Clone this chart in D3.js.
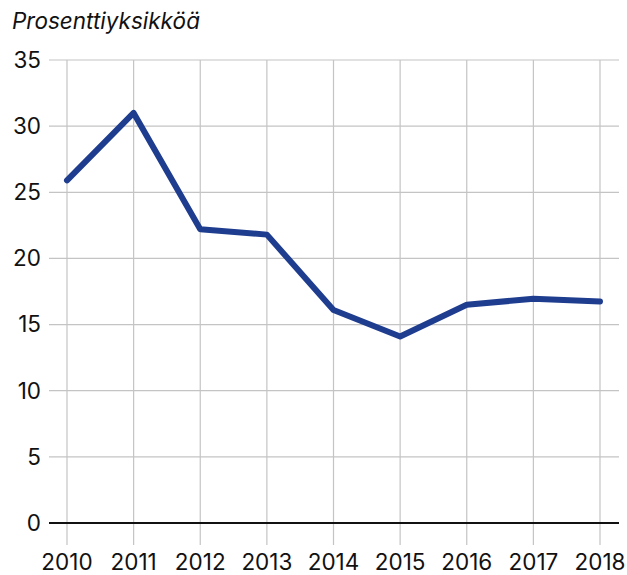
<!DOCTYPE html>
<html>
<head>
<meta charset="utf-8">
<script src="https://cdn.jsdelivr.net/npm/d3@7"></script>
<style>
  body { margin: 0; background: #fff; }
  svg { display: block; font-family: Inter, "Open Sans", sans-serif; }
</style>
</head>
<body>
<div id="chart"></div>
<script>
const years = [2010, 2011, 2012, 2013, 2014, 2015, 2016, 2017, 2018];
const values = [25.9, 31.0, 22.2, 21.8, 16.1, 14.1, 16.5, 16.95, 16.75];
const yTicks = [0, 5, 10, 15, 20, 25, 30, 35];
const unitLabel = "Prosenttiyksikköä";

const W = 627, H = 575;
const margin = { top: 60, right: 27, bottom: 52, left: 49 };
const fontSize = 22.5;

const svg = d3.select("#chart").append("svg")
  .attr("width", W)
  .attr("height", H);

const x = d3.scalePoint()
  .domain(years)
  .range([67, 600]);

const y = d3.scaleLinear()
  .domain([0, 35])
  .range([H - margin.bottom, margin.top]);

// horizontal grid
svg.append("g")
  .selectAll("line")
  .data(yTicks.filter(d => d !== 0))
  .join("line")
    .attr("x1", margin.left)
    .attr("x2", W - 8)
    .attr("y1", d => y(d))
    .attr("y2", d => y(d))
    .attr("stroke", "#c4c4c4")
    .attr("stroke-width", 1.2);

// vertical grid (reaches below the zero line)
svg.append("g")
  .selectAll("line")
  .data(years)
  .join("line")
    .attr("x1", d => x(d))
    .attr("x2", d => x(d))
    .attr("y1", margin.top)
    .attr("y2", y(0) + 22)
    .attr("stroke", "#c4c4c4")
    .attr("stroke-width", 1.2);

// zero line
svg.append("line")
  .attr("x1", margin.left)
  .attr("x2", W - 8)
  .attr("y1", y(0))
  .attr("y2", y(0))
  .attr("stroke", "#111")
  .attr("stroke-width", 2);

// y labels
svg.append("g")
  .selectAll("text")
  .data(yTicks)
  .join("text")
    .attr("x", 41)
    .attr("y", d => y(d))
    .attr("dy", "0.35em")
    .attr("text-anchor", "end")
    .attr("font-size", fontSize)
    .attr("fill", "#111")
    .text(d => d);

// x labels
svg.append("g")
  .selectAll("text")
  .data(years)
  .join("text")
    .attr("x", d => x(d))
    .attr("y", 570)
    .attr("text-anchor", "middle")
    .attr("font-size", fontSize)
    .attr("fill", "#111")
    .text(d => d);

// unit label
svg.append("text")
  .attr("x", 12)
  .attr("y", 29)
  .attr("font-size", fontSize)
  .attr("font-style", "italic")
  .attr("fill", "#111")
  .text(unitLabel);

// line
const line = d3.line()
  .x((d, i) => x(years[i]))
  .y(d => y(d));

svg.append("path")
  .datum(values)
  .attr("d", line)
  .attr("fill", "none")
  .attr("stroke", "#1f3d8f")
  .attr("stroke-width", 6)
  .attr("stroke-linejoin", "round")
  .attr("stroke-linecap", "round");
</script>
</body>
</html>
